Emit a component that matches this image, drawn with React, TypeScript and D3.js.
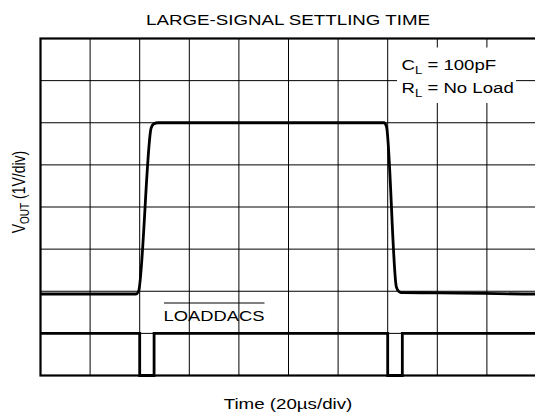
import * as d3 from "d3";

// time in µs (20 µs/div), amplitude in divisions (1 V/div)
const timeTicks = [0, 20, 40, 60, 80, 100, 120, 140, 160, 180, 200];
const voltTicks = [0, 1, 2, 3, 4, 5, 6, 7, 8];

const voutTime = [0, 38.5, 39.5, 44.6, 45.6, 47.4, 138.5, 139.5, 143.5, 144.6, 146.2, 161, 199.4, 200];
const voutVolts = [1.935, 1.935, 1.99, 5.87, 5.97, 6.0, 6.0, 5.91, 2.1, 1.99, 1.965, 1.963, 1.935, 1.935];

const loadTime = [0, 40, 45.8, 140, 145.9, 200];
const loadLevel = [1, 0, 1, 0, 1, 1];

const title = "LARGE-SIGNAL SETTLING TIME";
const xLabel = "Time (20µs/div)";

const width = 535;
const height = 415;
const SX = 1.31; // the original is stretched sideways
const FONT = "'Liberation Sans', Arial, Helvetica, sans-serif";

export default function App() {
  const x = d3.scaleLinear().domain([0, 200]).range([40.5, 536.5]);
  const y = d3.scaleLinear().domain([0, 8]).range([375.5, 38.5]);

  const vout = voutTime.map((t, i) => ({ t, v: voutVolts[i] }));
  const load = loadTime.map((t, i) => ({ t, v: loadLevel[i] }));

  const smooth = d3
    .line<{ t: number; v: number }>()
    .x((d) => x(d.t))
    .y((d) => y(d.v))
    .curve(d3.curveMonotoneX);

  const steps = d3
    .line<{ t: number; v: number }>()
    .x((d) => x(d.t))
    .y((d) => y(d.v))
    .curve(d3.curveStepAfter);

  const [x0, x1] = x.range();
  const [y0, y1] = y.range();

  return (
    <svg
      width={width}
      height={height}
      style={{ position: "absolute", left: 0, top: 0, background: "#fff" }}
      fontFamily={FONT}
      fontSize={14}
    >
      <g stroke="#000" strokeWidth={1}>
        {timeTicks.map((t) => (
          <line key={"v" + t} x1={x(t)} x2={x(t)} y1={y1} y2={y0} />
        ))}
        {voltTicks.map((v) => (
          <line key={"h" + v} x1={x0} x2={x1} y1={y(v)} y2={y(v)} />
        ))}
      </g>

      {/* annotation box hides the grid behind it */}
      <rect x={397} y={47.5} width={119} height={55.5} fill="#fff" />
      <text transform={`translate(401.5,70) scale(1.2,1)`} fontSize={15.5}>
        C<tspan fontSize={11} dy={4}>L</tspan>
        <tspan dy={-4}> = 100pF</tspan>
      </text>
      <text transform={`translate(401.5,93.3) scale(1.2,1)`} fontSize={15.5}>
        R<tspan fontSize={11} dy={4}>L</tspan>
        <tspan dy={-4}> = No Load</tspan>
      </text>

      <rect
        x={x0}
        y={y1}
        width={x1 - x0}
        height={y0 - y1}
        fill="none"
        stroke="#000"
        strokeWidth={2.2}
      />

      <path d={smooth(vout) ?? ""} fill="none" stroke="#000" strokeWidth={2.8} strokeLinejoin="round" />
      <path d={steps(load) ?? ""} fill="none" stroke="#000" strokeWidth={2.8} strokeLinejoin="miter" />

      <text transform={`translate(214,321.4) scale(${SX},1)`} textAnchor="middle">
        LOADDACS
      </text>
      <line x1={164} x2={264.5} y1={303} y2={303} stroke="#000" strokeWidth={1.2} />

      <text transform={`translate(288,25) scale(${SX},1)`} textAnchor="middle" fontSize={14.3}>
        {title}
      </text>
      <text transform={`translate(288,409.3) scale(${SX},1)`} textAnchor="middle" fontSize={14.3}>
        {xLabel}
      </text>
      <text transform={`translate(25,192) scale(${SX},1) rotate(-90)`} textAnchor="middle">
        V<tspan fontSize={10} dy={3}>OUT</tspan>
        <tspan dy={-3}> (1V/div)</tspan>
      </text>
    </svg>
  );
}
